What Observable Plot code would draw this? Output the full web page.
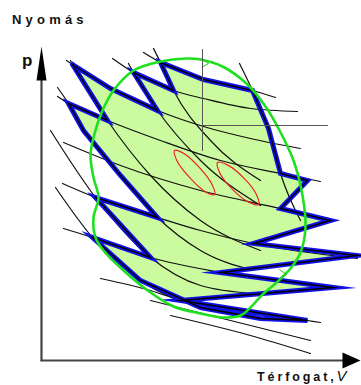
<!DOCTYPE html>
<html>
<head>
<meta charset="utf-8">
<script src="https://cdn.jsdelivr.net/npm/d3@7"></script>
<script src="https://cdn.jsdelivr.net/npm/@observablehq/plot@0.6"></script>
<style>
  html, body { margin: 0; padding: 0; background: #fff; }
  #chart { position: relative; width: 361px; height: 385px; font-family: "Liberation Sans", Arial, sans-serif; }
  #chart svg { position: absolute; left: 0; top: 0; }
  .t { position: absolute; font-weight: bold; color: #111; white-space: nowrap; line-height: 1; }
</style>
</head>
<body>
<div id="chart">
  <div class="t" style="left:12px; top:13px; font-size:13px; letter-spacing:4.2px;">Nyomás</div>
  <div class="t" style="left:22px; top:52px; font-size:17px;">p</div>
  <div class="t" style="left:257px; top:368px; font-size:12.5px; letter-spacing:2.9px;">Térfogat,<span style="font-weight:normal; font-style:italic; font-size:15px; letter-spacing:0;">V</span></div>
</div>
<script>
// Schematic p–V diagram: an arbitrary cycle approximated by a mesh of Carnot cycles.
// Coordinates are in arbitrary volume (V) and pressure (p) units.

// isotherms (shallow curves), each a list of [V, p] points
const isotherms = [
  [[102, 308], [119, 298], [162, 281], [211, 270], [234, 263]],
  [[71, 302], [92, 288], [132, 270], [162, 262], [209, 252], [256, 249]],
  [[25, 300], [31, 296], [69, 272], [116, 250], [162, 234], [209, 222], [259, 212]],
  [[16, 264], [27, 257], [66, 240], [119, 220], [179, 200], [239, 187], [279, 179]],
  [[22, 218], [79, 195], [159, 170], [239, 152], [291, 140]],
  [[21, 177], [54, 163], [116, 143], [159, 130], [212, 117], [316, 102]],
  [[22, 132], [51, 123], [109, 103], [179, 88], [292, 72]],
  [[59, 82], [109, 70], [139, 60], [266, 40], [279, 38]],
  [[109, 60], [189, 40], [269, 20]],
  [[129, 45], [209, 25], [269, 7]]
];

// adiabats (steeper curves)
const adiabats = [
  [[14, 173], [51, 123], [99, 80], [159, 53], [219, 42]],
  [[9, 230], [54, 163], [109, 103], [159, 75], [212, 67]],
  [[16, 273], [27, 257], [42, 230], [79, 185], [116, 143], [159, 110], [212, 90]],
  [[29, 300], [31, 296], [66, 240], [109, 185], [159, 140], [219, 110]],
  [[87, 297], [92, 288], [116, 250], [159, 200], [219, 155]],
  [[112, 312], [119, 298], [132, 270], [169, 220], [219, 180]],
  [[198, 297], [211, 270], [227, 232], [239, 187], [259, 140]]
];

// stepped boundary of the mesh (isotherm and adiabat pieces)
const zigzag = [
  [31, 296], [69, 272], [116, 250], [92, 288], [132, 270], [119, 298],
  [162, 281], [211, 270], [227, 232], [239, 187], [266, 180], [239, 152],
  [289, 140], [212, 117], [316, 105], [179, 88], [292, 73], [139, 60],
  [266, 40], [219, 42], [159, 53], [99, 80], [51, 123], [109, 103],
  [54, 163], [116, 143], [79, 185], [42, 230], [27, 257], [66, 240]
];

// the cycle itself
const cycle = [
  [159, 301], [181, 294], [206, 276], [224, 254], [237, 232], [252, 200],
  [261, 165], [264, 133], [259, 108], [249, 92], [234, 77], [221, 66],
  [209, 53], [199, 45], [181, 43], [159, 47], [132, 54], [109, 68],
  [82, 90], [62, 110], [54, 123], [52, 143], [57, 163], [52, 183],
  [49, 205], [52, 223], [61, 250], [72, 270], [92, 290], [119, 299], [144, 302]
];
// direction marks on the cycle
const cycleMarks = [{V: 164, p: 297}, {V: 242, p: 86}];

// two small cycles drawn inside the mesh
const loopA = [
  [133, 210], [142.7, 206.8], [158.2, 192.7], [170.7, 175.8], [173, 166],
  [163.3, 169.1], [147.8, 183.3], [135.3, 200.1]
];
const loopB = [
  [176, 198], [186.3, 195.4], [202.2, 182.6], [214.7, 166.4], [217, 156],
  [206.7, 158.6], [190.8, 171.4], [178.3, 187.6]
];

// reference cross of a state point
const crossV = [[161, 311], [161, 210]];
const crossP = [[161, 235], [286, 235]];

// axes
const axisP = [[0, 0], [0, 290]];
const axisV = [[0, 0], [305, 0]];
const tipP = [{V: 0, p: 314}];
const tipV = [{V: 319, p: 0}];

// filled arrow heads and a small chevron, sized in pixels
const headUp = {draw(c) { c.moveTo(0, 0); c.lineTo(5, 34); c.lineTo(-5, 34); c.closePath(); }};
const headRight = {draw(c) { c.moveTo(0, 0); c.lineTo(-18, 8); c.lineTo(-18, -8); c.closePath(); }};
const chevron = {draw(c) { c.moveTo(-4, -5); c.lineTo(3, 0); c.lineTo(-4, 4); }};

const toXY = (pts) => pts.map(([V, p]) => ({V, p}));
const closed = (pts) => toXY(pts.concat([pts[0]]));
const lineMarks = (sets, opts) => sets.map(s => Plot.line(toXY(s), {x: "V", y: "p", curve: "monotone-x", ...opts}));

const chart = Plot.plot({
  width: 361,
  height: 385,
  marginLeft: 41,
  marginRight: 3,
  marginTop: 45,
  marginBottom: 25,
  x: {domain: [0, 317], axis: null},
  y: {domain: [0, 315], axis: null},
  marks: [
    Plot.line(closed(zigzag), {x: "V", y: "p", fill: "#ccfa9e", stroke: "none"}),
    ...lineMarks(isotherms, {stroke: "#111", strokeWidth: 1.2}),
    ...lineMarks(adiabats, {stroke: "#111", strokeWidth: 1.2}),
    Plot.line(closed(zigzag), {x: "V", y: "p", stroke: "#1010e8", strokeWidth: 5, strokeLinejoin: "miter", strokeMiterlimit: 12}),
    Plot.line(closed(zigzag), {x: "V", y: "p", stroke: "#000", strokeWidth: 1.4, strokeLinejoin: "miter", strokeMiterlimit: 12}),
    Plot.line(toXY(cycle), {x: "V", y: "p", curve: "catmull-rom-closed", stroke: "#1ee01e", strokeWidth: 2.6}),
    Plot.dot(cycleMarks, {x: "V", y: "p", symbol: chevron, fill: "none", stroke: "#1ec01e", strokeWidth: 1}),
    Plot.line(toXY(loopA), {x: "V", y: "p", curve: "catmull-rom-closed", stroke: "#ee2222", strokeWidth: 1.2}),
    Plot.line(toXY(loopB), {x: "V", y: "p", curve: "catmull-rom-closed", stroke: "#ee2222", strokeWidth: 1.2}),
    Plot.line(toXY(crossV), {x: "V", y: "p", stroke: "#555", strokeWidth: 1}),
    Plot.line(toXY(crossP), {x: "V", y: "p", stroke: "#555", strokeWidth: 1}),
    Plot.line(toXY(axisP), {x: "V", y: "p", stroke: "#444", strokeWidth: 2.2}),
    Plot.line(toXY(axisV), {x: "V", y: "p", stroke: "#444", strokeWidth: 2.2}),
    Plot.dot(tipP, {x: "V", y: "p", symbol: headUp, fill: "#000", stroke: "none"}),
    Plot.dot(tipV, {x: "V", y: "p", symbol: headRight, fill: "#000", stroke: "none"})
  ]
});
document.getElementById("chart").prepend(chart);
</script>
</body>
</html>
